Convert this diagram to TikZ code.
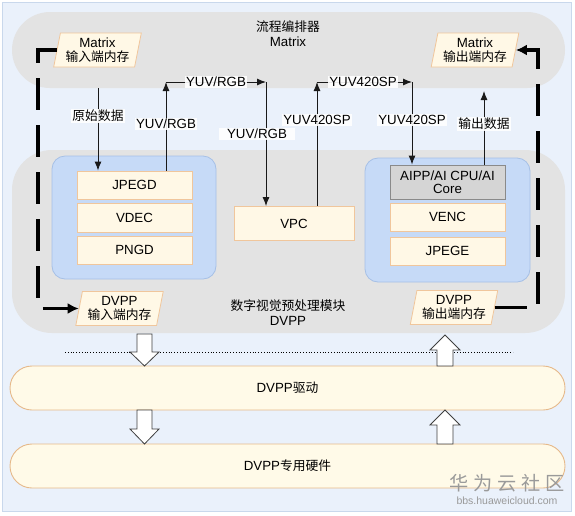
\documentclass[tikz,border=0pt]{standalone}
\usepackage{fontspec}
\setmainfont{Liberation Sans}
\newfontfamily\cjk{Noto Sans CJK SC}[Scale=0.96]
\usetikzlibrary{shapes.geometric,arrows.meta}
\definecolor{bgblue}{HTML}{EAF1FB}
\definecolor{framec}{HTML}{C9D8EC}
\definecolor{grayreg}{HTML}{E3E3E3}
\definecolor{bluefill}{HTML}{C6DAF7}
\definecolor{blueline}{HTML}{A6C0E6}
\definecolor{creamfill}{HTML}{FFF8E6}
\definecolor{creamline}{HTML}{F0C69C}
\definecolor{aifill}{HTML}{D5D5D5}
\definecolor{ailine}{HTML}{8A8A8A}
\definecolor{bandfill}{HTML}{FFFAE8}
\definecolor{bandline}{HTML}{E6B98A}
\definecolor{wmark}{HTML}{9A9A9A}
\tikzset{
  regionbox/.style={fill=grayreg, draw=none, rounded corners=38pt, inner sep=0pt},
  bluegroup/.style={fill=bluefill, draw=blueline, line width=0.8pt, rounded corners=13pt, inner sep=0pt},
  unitbox/.style={fill=creamfill, draw=creamline, line width=0.9pt, minimum width=115pt, minimum height=28pt, inner sep=0pt},
  aibox/.style={fill=aifill, draw=ailine, line width=0.9pt, minimum width=115pt, minimum height=34pt, inner sep=0pt, align=center, font=\fontsize{13.3}{13}\selectfont},
  memshape/.style={trapezium, trapezium left angle=77, trapezium right angle=103, trapezium stretches=true,
     fill=creamfill, draw=creamline, line width=0.8pt, minimum width=88pt, minimum height=34pt, inner sep=0pt, align=center,
     font=\fontsize{13.3}{14.5}\selectfont},
  lbl/.style={fill=white, fill opacity=0.9, text opacity=1, inner sep=1.5pt},
  thinarr/.style={draw=black!90, line width=0.9pt, -{Latex[length=9pt,width=7pt]}},
  thickdash/.style={draw=black, line width=3.5pt, dash pattern=on 32pt off 15pt, -{Latex[length=11pt,width=11pt]}},
  blockarr/.style={fill=white, draw=black!75, line width=0.8pt, line join=miter},
  band/.style={fill=bandfill, draw=bandline, line width=0.9pt, rounded corners=22pt, minimum width=555pt, minimum height=44pt, inner sep=0pt}
}
\begin{document}
\begin{tikzpicture}[x=1pt,y=-1pt, font=\fontsize{13.3}{15}\selectfont]
\useasboundingbox (0,0) rectangle (575,515);
\fill[white] (0,0) rectangle (575,515);
\draw[fill=bgblue, draw=framec, line width=1pt] (2,2) rectangle (571,511);

% regions
\node[regionbox, minimum width=553pt, minimum height=76pt] (matrix) at (288.5,50) {};
\node[align=center] (matrixtxt) at (288,34) {{\cjk 流程编排器}\\Matrix};
\node[regionbox, rounded corners=40pt, minimum width=553pt, minimum height=183pt] (dvpp) at (288.5,241.5) {};
\node[align=center] (dvpptxt) at (288,313) {{\cjk 数字视觉预处理模块}\\DVPP};

% blue groups
\node[bluegroup, minimum width=164pt, minimum height=123pt] (decgrp) at (134,217.5) {};
\node[bluegroup, minimum width=165pt, minimum height=124pt] (encgrp) at (447.5,220) {};

% units
\node[unitbox] (jpegd) at (134.5,185) {JPEGD};
\node[unitbox, minimum height=29pt] (vdec) at (134.5,217.5) {VDEC};
\node[unitbox] (pngd) at (134.5,250) {PNGD};
\node[unitbox, minimum width=120pt, minimum height=34pt] (vpc) at (294,223.5) {VPC};
\node[aibox] (aipp) at (447.5,182) {AIPP/AI CPU/AI\\Core};
\node[unitbox] (venc) at (447.5,217) {VENC};
\node[unitbox] (jpege) at (447.5,251) {JPEGE};

% memories
\node[memshape] (minL) at (97.5,50) {Matrix\\{\cjk 输入端内存}};
\node[memshape] (moutR) at (475,50) {Matrix\\{\cjk 输出端内存}};
\node[memshape] (dinL) at (119.5,308.5) {DVPP\\{\cjk 输入端内存}};
\node[memshape] (doutR) at (454,307.5) {DVPP\\{\cjk 输出端内存}};

% thick dashed memory transfers
\coordinate (lx) at (38,0);
\coordinate (rx) at (538,0);
\draw[thickdash] (minL.west) -- (minL.west -| lx) -- (dinL.west -| lx) -- (dinL.west);
\draw[thickdash] (doutR.east) -- (doutR.east -| rx) -- (moutR.east -| rx) -- (moutR.east);

% thin data arrows
\coordinate (rawsrc) at (98,88);
\coordinate (c1) at (166,82);
\coordinate (c2) at (266,82);
\coordinate (c3) at (317,82);
\coordinate (c4) at (412,82);
\coordinate (c5) at (484,91);
\draw[thinarr] (rawsrc) -- (rawsrc |- jpegd.north);
\draw[thinarr] (c1 |- jpegd.north) -- (c1);
\draw[thinarr] (c1) -- (c2);
\draw[thinarr] (c2) -- (c2 |- vpc.north);
\draw[thinarr] (c3 |- vpc.north) -- (c3);
\draw[thinarr] (c3) -- (c4);
\draw[thinarr] (c4) -- (c4 |- aipp.north);
\draw[thinarr] (c5 |- aipp.north) -- (c5);

% labels
\node[lbl] (l1) at (98,116) {\cjk 原始数据};
\node[lbl] (l2) at (166,124) {YUV/RGB};
\node[lbl] (l3) at (216,82) {YUV/RGB};
\node[lbl, inner xsep=8pt] (l4) at (257,134) {YUV/RGB};
\node[lbl] (l5) at (317,120) {YUV420SP};
\node[lbl] (l6) at (363,82) {YUV420SP};
\node[lbl] (l7) at (412,120) {YUV420SP};
\node[lbl] (l8) at (484,124) {\cjk 输出数据};

% dotted separator
\coordinate (dl) at (65,352);
\coordinate (dr) at (513,352);
\draw[dotted, line width=0.8pt] (dl) -- (dr);

% bands
\node[band] (drv) at (287.5,388) {DVPP{\cjk 驱动}};
\node[band] (hw) at (287.5,466) {DVPP{\cjk 专用硬件}};

% block arrows
\draw[blockarr] (137,334) -- (152,334) -- (152,352) -- (159,352) -- (144.5,366) -- (130,352) -- (137,352) -- cycle;
\draw[blockarr] (137,410) -- (152,410) -- (152,429) -- (159,429) -- (144.5,444) -- (130,429) -- (137,429) -- cycle;
\draw[blockarr] (437,366) -- (453,366) -- (453,350) -- (460,350) -- (445,335) -- (430,350) -- (437,350) -- cycle;
\draw[blockarr] (437,444) -- (453,444) -- (453,425) -- (460,425) -- (445,410) -- (430,425) -- (437,425) -- cycle;

% watermark
\node[text=wmark, font=\cjk\fontsize{20}{20}\selectfont] (wm1) at (507,483) {华\hspace{5pt}为\hspace{5pt}云\hspace{5pt}社\hspace{5pt}区};
\node[text=wmark, font=\fontsize{10.5}{12}\selectfont] (wm2) at (507,501) {bbs.huaweicloud.com};
\end{tikzpicture}
\end{document}
